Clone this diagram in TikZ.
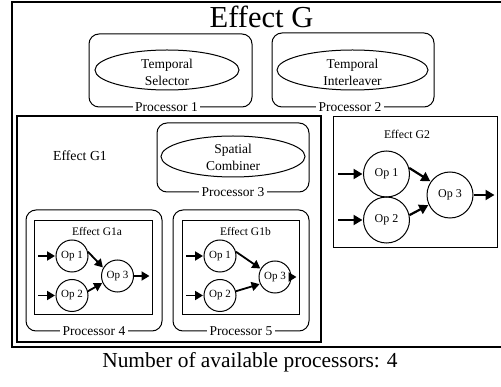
\documentclass[tikz,border=0pt]{standalone}
\usepackage{fontspec}
\setmainfont{Liberation Serif}
\usetikzlibrary{arrows.meta,shapes.geometric}

\begin{document}
\begin{tikzpicture}[x=1pt,y=-1pt,
  frame/.style={draw, line width=1.3pt, inner sep=0pt},
  procbox/.style={draw, rounded corners=10pt, line width=1pt, inner sep=0pt},
  effbox/.style={draw, line width=1pt, inner sep=0pt},
  proclabel/.style={fill=white, inner sep=2.5pt, font=\fontsize{13.5}{15}\selectfont},
  task/.style={draw, ellipse, line width=1pt, inner sep=0pt},
  tasktext/.style={align=center, inner sep=0pt, font=\fontsize{13.5}{17}\selectfont},
  opbig/.style={draw, circle, minimum size=46pt, inner sep=0pt, line width=1pt, font=\fontsize{12}{14}\selectfont},
  opsmall/.style={draw, circle, minimum size=32pt, inner sep=0pt, line width=1pt, font=\fontsize{11}{13}\selectfont},
  flowbig/.style={-{Triangle[length=9pt,width=10pt]}, line width=2.2pt, shorten >=0.5pt},
  flowsmall/.style={-{Triangle[length=8pt,width=9pt]}, line width=1.8pt, shorten >=0.5pt},
]
\useasboundingbox (0,0) rectangle (501,387);
\begin{scope}
\clip (0,0) rectangle (501,387);

% whole effect
\node[frame, minimum width=499pt, minimum height=345pt] (g) at (261.5,174.5) {};
\node[font=\fontsize{30.5}{33}\selectfont, inner sep=0pt] (gtitle) at (261.5,17) {Effect G};

% processors 1 and 2
\node[procbox, minimum width=163pt, minimum height=73pt] (p1) at (170.5,70.5) {};
\node[task, minimum width=144pt, minimum height=40pt] (ts) at (167,70) {};
\node[tasktext] (tstext) at ([yshift=-2pt]ts) {Temporal\\Selector};
\node[proclabel] (p1lab) at ([xshift=-4pt]p1.south) {Processor 1};

\node[procbox, minimum width=162pt, minimum height=74pt] (p2) at (353,70) {};
\node[task, minimum width=151pt, minimum height=40pt] (ti) at (352.5,70) {};
\node[tasktext] (titext) at ([yshift=-2pt]ti) {Temporal\\Interleaver};
\node[proclabel] (p2lab) at ([xshift=-3pt]p2.south) {Processor 2};

% effect G1
\node[frame, minimum width=304pt, minimum height=226pt] (g1) at (169,229) {};
\node[font=\fontsize{13.8}{15}\selectfont, inner sep=0pt] (g1title) at (80,156) {Effect G1};

\node[procbox, minimum width=152pt, minimum height=69pt] (p3) at (233,157.5) {};
\node[task, minimum width=144pt, minimum height=41pt] (sc) at (233,156.5) {};
\node[tasktext] (sctext) at ([yshift=-1pt]sc) {Spatial\\Combiner};
\node[proclabel] (p3lab) at (p3.south) {Processor 3};

% effect G1a on processor 4
\node[procbox, minimum width=136pt, minimum height=121pt] (p4) at (94,270.5) {};
\node[effbox, minimum width=118pt, minimum height=94pt] (g1a) at (93,268) {};
\node[font=\fontsize{11.5}{13}\selectfont, inner sep=0pt] (g1atitle) at (97,232) {Effect G1a};
\node[opsmall] (a1) at (72,256) {Op 1};
\node[opsmall] (a2) at (72,295.5) {Op 2};
\node[opsmall] (a3) at (117.5,276) {Op 3};
\coordinate (a1in) at (38,256);
\coordinate (a2in) at (38,295.5);
\coordinate (a3out) at (150,276);
\draw[flowsmall] (a1in) -- (a1);
\draw[flowsmall] (a2in) -- (a2);
\draw[flowsmall] (a1.15) -- (a3.150);
\draw[flowsmall] (a2.15) -- (a3.205);
\draw[flowsmall] (a3) -- (a3out);
\node[proclabel] (p4lab) at (p4.south) {Processor 4};

% effect G1b on processor 5
\node[procbox, minimum width=136pt, minimum height=121pt] (p5) at (241,270.5) {};
\node[effbox, minimum width=117pt, minimum height=94pt] (g1b) at (240.5,268) {};
\node[font=\fontsize{11.5}{13}\selectfont, inner sep=0pt] (g1btitle) at (245.5,232) {Effect G1b};
\node[opsmall] (b1) at (220,256) {Op 1};
\node[opsmall] (b2) at (220,295.5) {Op 2};
\node[opsmall] (b3) at (275,277) {Op 3};
\coordinate (b1in) at (186,256);
\coordinate (b2in) at (186,295.5);
\coordinate (b3out) at (297,277);
\draw[flowsmall] (b1in) -- (b1);
\draw[flowsmall] (b2in) -- (b2);
\draw[flowsmall] (b1.15) -- (b3.150);
\draw[flowsmall] (b2.15) -- (b3.205);
\draw[flowsmall] (b3) -- (b3out);
\node[proclabel] (p5lab) at (p5.south) {Processor 5};

% effect G2
\node[effbox, minimum width=164pt, minimum height=131pt] (g2) at (415,182.5) {};
\node[font=\fontsize{11.8}{13}\selectfont, inner sep=0pt] (g2title) at (407,134) {Effect G2};
\node[opbig] (c1) at (386.5,174) {Op 1};
\node[opbig] (c2) at (386.5,220) {Op 2};
\node[opbig] (c3) at (450,195) {Op 3};
\coordinate (c1in) at (338,174);
\coordinate (c2in) at (338,220);
\coordinate (c3out) at (495,195);
\draw[flowbig] (c1in) -- (c1);
\draw[flowbig] (c2in) -- (c2);
\draw[flowbig] (c1.15) -- (c3.145);
\draw[flowbig] (c2.12) -- (c3.205);
\draw[flowbig] (c3) -- (c3out);
\end{scope}

\node[font=\fontsize{21.4}{24}\selectfont, inner sep=0pt] (caption) at (250,362) {Number of available processors: 4};
\end{tikzpicture}
\end{document}
